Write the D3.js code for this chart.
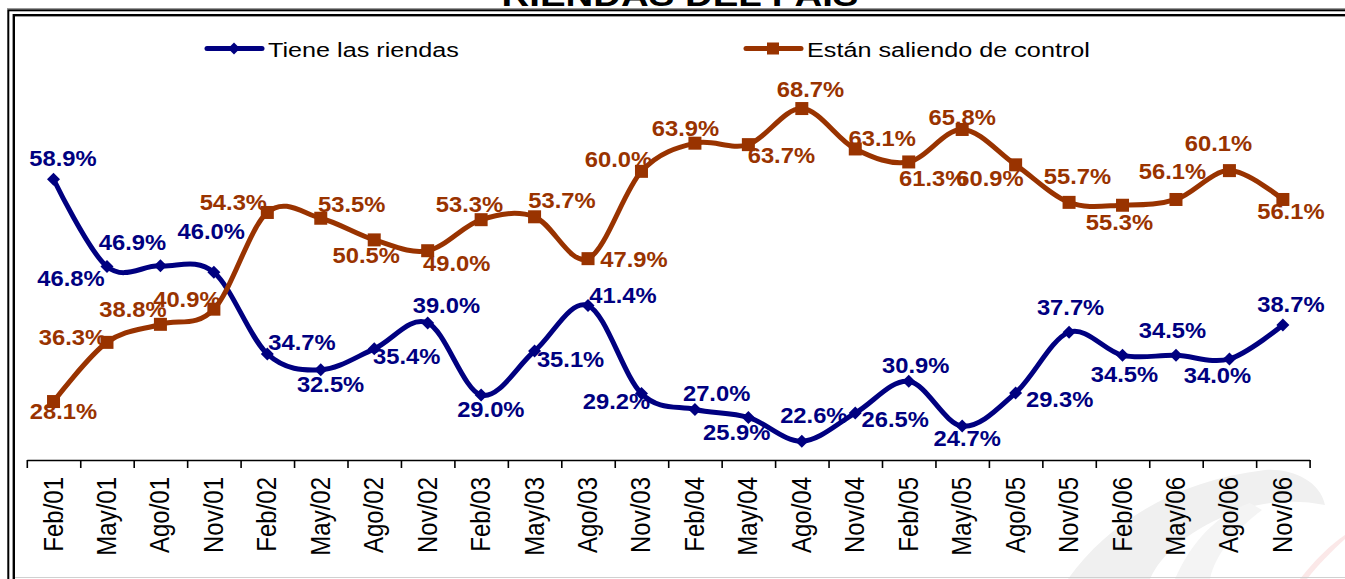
<!DOCTYPE html>
<html>
<head>
<meta charset="utf-8">
<script src="https://cdn.jsdelivr.net/npm/d3@7/dist/d3.min.js"></script>
<style>
  html, body { margin: 0; padding: 0; background: #fff; }
  svg { display: block; }
</style>
</head>
<body>
<svg id="chart" width="1345" height="579"></svg>
<script>
const categories = ["Feb/01","May/01","Ago/01","Nov/01","Feb/02","May/02","Ago/02","Nov/02","Feb/03","May/03","Ago/03","Nov/03","Feb/04","May/04","Ago/04","Nov/04","Feb/05","May/05","Ago/05","Nov/05","Feb/06","May/06","Ago/06","Nov/06"];
const tiene = [58.9, 46.8, 46.9, 46.0, 34.7, 32.5, 35.4, 39.0, 29.0, 35.1, 41.4, 29.2, 27.0, 25.9, 22.6, 26.5, 30.9, 24.7, 29.3, 37.7, 34.5, 34.5, 34.0, 38.7];
const estan = [28.1, 36.3, 38.8, 40.9, 54.3, 53.5, 50.5, 49.0, 53.3, 53.7, 47.9, 60.0, 63.9, 63.7, 68.7, 63.1, 61.3, 65.8, 60.9, 55.7, 55.3, 56.1, 60.1, 56.1];
const seriesNames = ["Tiene las riendas", "Están saliendo de control"];
const title = "RIENDAS DEL PAIS";
const yDomain = [20, 80];

// label placement (pixel offsets of label center / baseline from its point)
const tieneLabelOffsets = [[9.5,-13.7],[-36,19],[-28,-15.4],[-2.6,-33],[34.6,-3.9],[9.8,22],[32.5,15],[18.7,-9.8],[9.7,22],[36,16],[35,-2.6],[-25,15.4],[21.7,-8.5],[-11.6,22.6],[12,-18],[40,14],[7,-8],[5,20],[44,14],[1.5,-17],[2,27],[-3.5,-17],[-12,24.5],[8,-13.5]];
const estanLabelOffsets = [[10,17.5],[-34.5,2.6],[-27.5,-7],[-27,-2],[-34,-2.5],[31,-6],[-8,23],[29,20],[-11.6,-7.7],[27.4,-9],[46,8.5],[-23,-4],[-9.5,-6.7],[33,18.5],[8.7,-12],[27,-3.4],[24,23.6],[0,-4],[-25.6,20.7],[8.4,-18.7],[-3,24.5],[-3.5,-20],[-11,-20],[8,20]];

const BLUE = "#000080", ORANGE = "#993300";
const FONT = "Arial, 'Liberation Sans', sans-serif";

const svg = d3.select("#chart");

// watermark
const wm = svg.append("g");
wm.append("path").attr("d","M1068,579 C1110,520 1180,480 1265,470 C1290,468 1320,480 1325,505 C1300,500 1270,500 1240,510 C1190,528 1160,555 1150,579 Z").attr("fill","#f0f0f0");
wm.append("path").attr("d","M1175,579 C1190,545 1215,515 1250,503 L1262,510 C1235,530 1215,555 1210,579 Z").attr("fill","#f4f4f4");
wm.append("path").attr("d","M1300,579 C1315,560 1330,545 1345,535 L1345,539 C1332,551 1318,565 1307,579 Z").attr("fill","#fbe8e8");

// frame
svg.append("line").attr("x1",7).attr("x2",1345).attr("y1",8.5).attr("y2",8.5).attr("stroke","#999").attr("stroke-width",1);
svg.append("rect").attr("x",8.3).attr("y",10.3).attr("width",1400).attr("height",700).attr("fill","none").attr("stroke","#000").attr("stroke-width",2);
svg.append("rect").attr("x",13.8).attr("y",15.2).attr("width",1400).attr("height",700).attr("fill","none").attr("stroke","#000").attr("stroke-width",2.4);
svg.append("line").attr("x1",15).attr("x2",1345).attr("y1",577.5).attr("y2",577.5).attr("stroke","#d0d0d0").attr("stroke-width",1);

// title (mostly clipped at top)
svg.append("text").attr("transform","translate(680,6) scale(1.2,1)")
  .attr("text-anchor","middle").attr("font-family",FONT).attr("font-weight","bold")
  .attr("font-size",32).attr("fill","#000").text(title);

const x0 = 26.8, x1 = 1309.6;
const x = d3.scaleBand().domain(categories).range([x0, x1]);
const xTick = d3.scaleLinear().domain([0, categories.length]).range([x0, x1]);
const y = d3.scaleLinear().domain(yDomain).range([460, 27]);
const cx = c => x(c) + x.bandwidth() / 2;

// axis
const axis = d3.axisBottom(xTick).tickValues(d3.range(categories.length + 1)).tickFormat("").tickSize(8).tickSizeOuter(0);
const ag = svg.append("g").attr("transform","translate(0,460)").call(axis);
ag.select(".domain").attr("stroke","#000").attr("stroke-width",1.6);
ag.selectAll(".tick line").attr("stroke","#000").attr("stroke-width",1.6);

svg.append("g").selectAll("text").data(categories).join("text")
  .attr("transform", d => `translate(${cx(d) + 9},477) scale(1.15,1) rotate(-90)`)
  .attr("text-anchor","end").attr("font-family",FONT).attr("font-size",24).attr("fill","#000")
  .text(d => d);

// labels (drawn below lines/markers)
function drawLabels(vals, offs, color) {
  svg.append("g").selectAll("text").data(vals).join("text")
    .attr("transform", (d,i) => `translate(${cx(categories[i]) + offs[i][0]},${y(d) + offs[i][1]}) scale(1.08,1)`)
    .attr("text-anchor","middle").attr("font-family",FONT).attr("font-weight","bold")
    .attr("font-size",22).attr("fill",color)
    .text(d => d.toFixed(1) + "%");
}
drawLabels(estan, estanLabelOffsets, ORANGE);
drawLabels(tiene, tieneLabelOffsets, BLUE);

const line = d3.line().x((d,i) => cx(categories[i])).y(d => y(d)).curve(d3.curveCardinal.tension(0));

// blue series
svg.append("path").datum(tiene).attr("d", line).attr("fill","none").attr("stroke",BLUE).attr("stroke-width",5).attr("stroke-linejoin","round");
svg.append("g").selectAll("path").data(tiene).join("path")
  .attr("transform",(d,i) => `translate(${cx(categories[i])},${y(d)})`)
  .attr("d","M0,-6.5 L6.5,0 L0,6.5 L-6.5,0 Z").attr("fill",BLUE);

// orange series
svg.append("path").datum(estan).attr("d", line).attr("fill","none").attr("stroke",ORANGE).attr("stroke-width",5).attr("stroke-linejoin","round");
svg.append("g").selectAll("rect").data(estan).join("rect")
  .attr("x",(d,i) => cx(categories[i]) - 6.5).attr("y", d => y(d) - 6.5)
  .attr("width",13).attr("height",13).attr("fill",ORANGE);

// legend
const legend = [
  {name: seriesNames[0], color: BLUE, lx: 207, type: "diamond"},
  {name: seriesNames[1], color: ORANGE, lx: 746, type: "square"}
];
const lg = svg.append("g").selectAll("g").data(legend).join("g").attr("transform", d => `translate(${d.lx},48.5)`);
lg.append("line").attr("x1",0).attr("x2",55).attr("y1",0).attr("y2",0).attr("stroke",d => d.color).attr("stroke-width",5).attr("stroke-linecap","round");
lg.filter(d => d.type === "diamond").append("path").attr("d","M27,-6 L33,0 L27,6 L21,0 Z").attr("fill",d => d.color);
lg.filter(d => d.type === "square").append("rect").attr("x",21).attr("y",-6).attr("width",12).attr("height",12).attr("fill",d => d.color);
lg.append("text").attr("transform","translate(61,8) scale(1.2,1)").attr("font-family",FONT).attr("font-size",21).attr("fill","#000").text(d => d.name);
</script>
</body>
</html>
